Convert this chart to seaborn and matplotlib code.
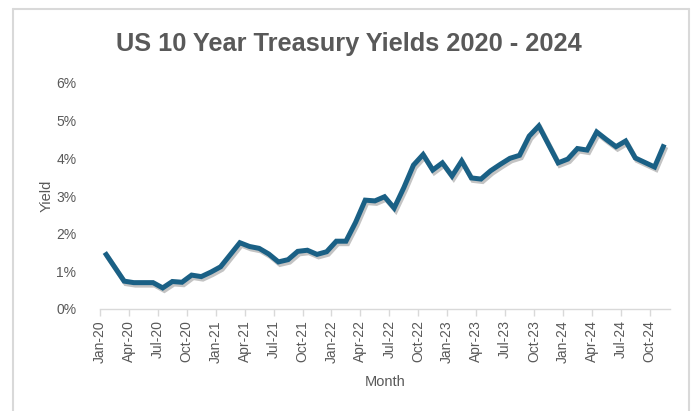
#!/usr/bin/env python3
# -*- coding: utf-8 -*-
"""
US 10 Year Treasury Yields 2020 - 2024 (month-end, %)
"""

import numpy as np
import matplotlib
matplotlib.use('Agg')
import matplotlib.pyplot as plt
import matplotlib.patheffects as pe
from matplotlib.lines import Line2D
from matplotlib.ticker import FuncFormatter
import seaborn as sns

# 数据: 每月收益率 (%)，从 Jan-20 到 Nov-24
YEARS = ['20', '21', '22', '23', '24']
MONTHS = ['Jan', 'Feb', 'Mar', 'Apr', 'May', 'Jun',
          'Jul', 'Aug', 'Sep', 'Oct', 'Nov', 'Dec']

yields_2020 = [1.50, 1.12, 0.74, 0.70, 0.70, 0.70, 0.56, 0.73, 0.71, 0.90, 0.86, 0.98]
yields_2021 = [1.12, 1.44, 1.76, 1.66, 1.61, 1.46, 1.25, 1.31, 1.53, 1.56, 1.45, 1.52]
yields_2022 = [1.80, 1.80, 2.30, 2.89, 2.87, 2.98, 2.68, 3.22, 3.82, 4.10, 3.69, 3.88]
yields_2023 = [3.53, 3.93, 3.48, 3.45, 3.67, 3.84, 4.00, 4.08, 4.59, 4.86, 4.37, 3.88]
yields_2024 = [3.98, 4.26, 4.22, 4.70, 4.50, 4.31, 4.46, 4.01, 3.89, 3.77, 4.37]

yields = yields_2020 + yields_2021 + yields_2022 + yields_2023 + yields_2024
month_labels = [f'{m}-{y}' for y in YEARS for m in MONTHS][:len(yields)]

LINE_COLOR = '#1a6085'
TEXT_COLOR = '#595959'
AXIS_COLOR = '#d9d9d9'

sns.set_theme(style='white')
plt.rcParams['font.family'] = ['Liberation Sans', 'DejaVu Sans']

fig = plt.figure(figsize=(6.95, 4.11), dpi=100)
ax = fig.add_axes([100 / 695, 1 - 309 / 411, 570 / 695, 226 / 411])

# 每个点在类别中间
x = np.arange(len(yields)) + 0.5
sns.lineplot(x=x, y=yields, ax=ax, color=LINE_COLOR, linewidth=3.6,
             solid_joinstyle='miter', solid_capstyle='butt')
for line in ax.lines:
    line.set_path_effects([
        pe.SimpleLineShadow(offset=(1.2, -1.8), shadow_color='#555555', alpha=0.35),
        pe.Normal(),
    ])

ax.set_xlim(0, len(yields) + 0.1)
ax.set_ylim(0, 6)

tick_pos = np.arange(0, len(yields), 3)
ax.set_xticks(tick_pos)
ax.set_xticklabels([month_labels[i] for i in tick_pos], rotation=90,
                   fontsize=10, color=TEXT_COLOR)
ax.set_yticks(range(0, 7))
ax.yaxis.set_major_formatter(FuncFormatter(lambda v, _: f'{v:.0f}%'))
ax.tick_params(axis='y', length=0, pad=17, labelsize=10, labelcolor=TEXT_COLOR)
ax.tick_params(axis='x', bottom=True, length=5, width=1, color=AXIS_COLOR, pad=3)

for side in ['top', 'right', 'left']:
    ax.spines[side].set_visible(False)
ax.spines['bottom'].set_color(AXIS_COLOR)
ax.spines['bottom'].set_linewidth(1)
ax.grid(False)

ax.set_xlabel('Month', fontsize=10.5, color=TEXT_COLOR)
ax.set_ylabel('Yield', fontsize=10.5, color=TEXT_COLOR)
ax.yaxis.set_label_coords(-(100 - 54) / 570, 0.50)
ax.xaxis.set_label_coords(0.5, -(375 - 309) / 226)

fig.text(349 / 695, 1 - 44 / 411, 'US 10 Year Treasury Yields 2020 - 2024',
         ha='center', va='center', fontsize=18.3, fontweight='bold',
         color=TEXT_COLOR)

# 外框 (左、上、右)
x0, x1 = 13 / 695, 689 / 695
y1 = 1 - 9 / 411
for xs, ys in [([x0, x0], [0, y1]), ([x0, x1], [y1, y1]), ([x1, x1], [y1, 0])]:
    fig.add_artist(Line2D(xs, ys, color=AXIS_COLOR, linewidth=1.5,
                          transform=fig.transFigure))

plt.savefig('out.png', dpi=100)
plt.close()
